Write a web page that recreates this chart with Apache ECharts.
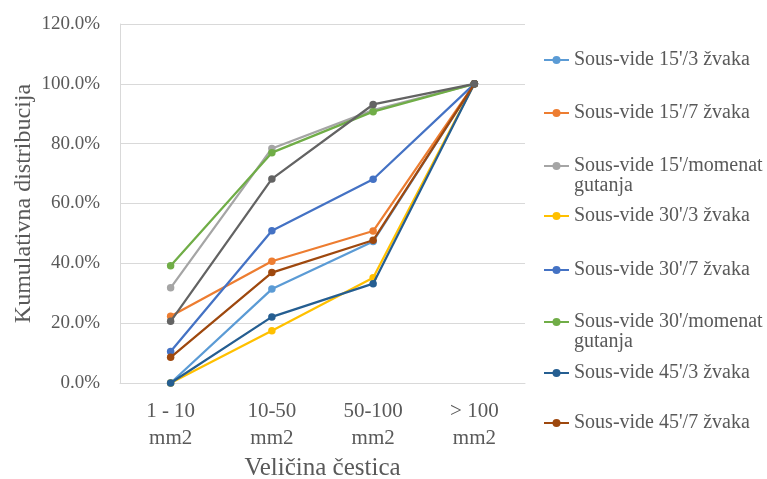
<!DOCTYPE html>
<html>
<head>
<meta charset="utf-8">
<script src="https://cdn.jsdelivr.net/npm/echarts@6/dist/echarts.min.js"></script>
<style>
html,body{margin:0;padding:0;background:#fff;}
#chart{width:767px;height:479px;}
</style>
</head>
<body>
<div id="chart"></div>
<script>
var categories = ['1 - 10\nmm2', '10-50\nmm2', '50-100\nmm2', '> 100\nmm2'];
var yTicks = [0, 20, 40, 60, 80, 100, 120];

var seriesNames = [
  "Sous-vide 15'/3 žvaka",
  "Sous-vide 15'/7 žvaka",
  "Sous-vide 15'/momenat gutanja",
  "Sous-vide 30'/3 žvaka",
  "Sous-vide 30'/7 žvaka",
  "Sous-vide 30'/momenat gutanja",
  "Sous-vide 45'/3 žvaka",
  "Sous-vide 45'/7 žvaka",
  "Sous-vide 45'/momenat gutanja"
];
var s15_3  = [0.0, 31.4, 47.3, 100];
var s15_7  = [22.3, 40.7, 50.8, 100];
var s15_mg = [31.8, 78.4, 91.2, 100];
var s30_3  = [0.0, 17.5, 35.2, 100];
var s30_7  = [10.5, 50.9, 68.1, 100];
var s30_mg = [39.2, 77.0, 90.7, 100];
var s45_3  = [0.0, 22.1, 33.2, 100];
var s45_7  = [8.6, 36.9, 47.7, 100];
var s45_mg = [20.6, 68.2, 93.1, 100];

var seriesValues = [s15_3, s15_7, s15_mg, s30_3, s30_7, s30_mg, s45_3, s45_7, s45_mg];
var colors = ['#5B9BD5', '#ED7D31', '#A5A5A5', '#FFC000', '#4472C4', '#70AD47', '#255E91', '#9E480E', '#636363'];
var legendCount = 8;

var FONT = '"Liberation Serif", "Times New Roman", serif';
var TXT = '#595959';

var series = seriesNames.map(function (n, i) {
  return {
    name: n,
    type: 'line',
    data: seriesValues[i],
    symbol: 'circle',
    symbolSize: 7.5,
    showSymbol: true,
    color: colors[i],
    lineStyle: { width: 2.25, color: colors[i] },
    itemStyle: { color: colors[i] },
    emphasis: { disabled: true },
    animation: false,
    z: 2 + i
  };
});

// legend layout (one legend block per entry)
var legendIconY = [60, 113, 166, 216, 270, 322, 373, 423];
var LH = 20;
var legends = [];
for (var i = 0; i < legendCount; i++) {
  var name = seriesNames[i];
  var twoLine = name.indexOf('momenat') >= 0;
  var lines = twoLine ? 3 : 1;
  legends.push({
    show: true,
    orient: 'vertical',
    left: 543,
    top: legendIconY[i] - (lines * LH) / 2,
    padding: 0,
    itemWidth: 25,
    itemHeight: 10,
    selectedMode: false,
    data: [name],
    formatter: function (n) {
      if (n.indexOf('momenat') >= 0) {
        return '\n' + n.replace(' gutanja', '\ngutanja');
      }
      return n;
    },
    textStyle: { fontFamily: FONT, fontSize: 20, color: TXT, lineHeight: LH }
  });
}

var chart = echarts.init(document.getElementById('chart'), null, { renderer: 'canvas' });
chart.setOption({
  animation: false,
  backgroundColor: '#ffffff',
  color: colors,
  legend: legends,
  grid: { left: 120, right: 242, top: 24, bottom: 96, containLabel: false, outerBoundsMode: 'none' },
  xAxis: {
    type: 'category',
    data: categories,
    boundaryGap: true,
    name: 'Veličina čestica',
    nameLocation: 'middle',
    nameGap: 73,
    nameMoveOverlap: false,
    nameTextStyle: { fontFamily: FONT, fontSize: 25, color: TXT },
    axisLine: { show: true, lineStyle: { color: '#D9D9D9', width: 1 } },
    axisTick: { show: false },
    axisLabel: { fontFamily: FONT, fontSize: 21, color: TXT, lineHeight: 27, margin: 15, interval: 0 },
    splitLine: { show: false }
  },
  yAxis: {
    type: 'value',
    min: yTicks[0],
    max: yTicks[yTicks.length - 1],
    interval: yTicks[1] - yTicks[0],
    name: 'Kumulativna distribucija',
    nameLocation: 'middle',
    nameGap: 84,
    nameRotate: 90,
    nameMoveOverlap: false,
    nameTextStyle: { fontFamily: FONT, fontSize: 24, color: TXT },
    axisLine: { show: true, lineStyle: { color: '#D9D9D9', width: 1 } },
    axisTick: { show: false },
    axisLabel: {
      fontFamily: FONT, fontSize: 19, color: TXT, margin: 20,
      formatter: function (v) { return v.toFixed(1) + '%'; }
    },
    splitLine: { show: true, lineStyle: { color: '#D9D9D9', width: 1 } }
  },
  series: series
});
</script>
</body>
</html>
